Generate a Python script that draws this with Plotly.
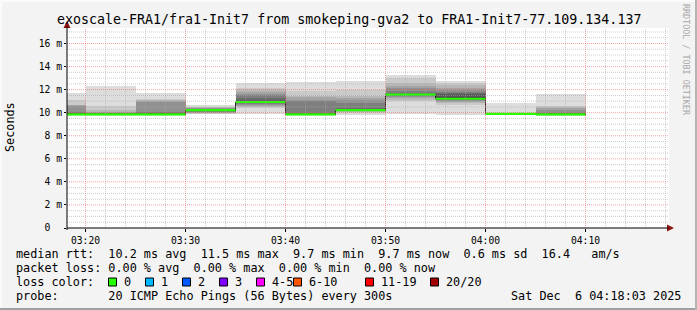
import plotly.graph_objects as go

# ---------------- data ----------------
DAY = "2025-12-06 "
slot_start = ["03:15", "03:20", "03:25", "03:30", "03:35", "03:40",
              "03:45", "03:50", "03:55", "04:00", "04:05"]
slot_end = "04:10"
median_ms = [9.86, 9.86, 9.86, 10.23, 10.93, 9.86, 10.23, 11.56, 11.21, 9.90, 9.86]

# 20 sorted ping rtts (ms) per 5-minute slot
pings_0315 = [9.74, 9.76, 9.78, 9.80, 9.82, 9.83, 9.84, 9.85, 9.86, 9.86, 9.87, 9.90, 9.93, 9.97, 10.02, 10.55, 10.65, 10.70, 11.10, 11.68]
pings_0320 = [9.74, 9.76, 9.78, 9.80, 9.82, 9.83, 9.84, 9.85, 9.86, 9.86, 9.87, 9.88, 9.90, 9.93, 9.97, 10.00, 10.05, 10.23, 10.55, 12.30]
pings_0325 = [9.74, 9.76, 9.78, 9.80, 9.82, 9.83, 9.84, 9.85, 9.86, 9.86, 9.87, 9.90, 9.95, 10.00, 10.03, 10.95, 11.00, 11.10, 11.16, 11.70]
pings_0330 = [9.86, 9.90, 9.95, 10.00, 10.03, 10.08, 10.12, 10.16, 10.20, 10.22, 10.24, 10.27, 10.30, 10.33, 10.36, 10.38, 10.42, 10.47, 10.52, 10.67]
pings_0335 = [9.90, 10.38, 10.50, 10.60, 10.67, 10.75, 10.80, 10.85, 10.90, 10.92, 10.94, 11.00, 11.10, 11.30, 11.50, 11.65, 11.80, 11.95, 12.10, 12.55]
pings_0340 = [9.74, 9.76, 9.78, 9.80, 9.82, 9.83, 9.84, 9.85, 9.86, 9.86, 9.87, 9.88, 9.90, 9.93, 11.00, 11.10, 11.40, 11.47, 11.90, 12.63]
pings_0345 = [9.80, 10.00, 10.10, 10.15, 10.18, 10.20, 10.21, 10.22, 10.22, 10.23, 10.23, 10.28, 10.33, 10.38, 10.80, 11.10, 11.30, 11.45, 11.97, 12.75]
pings_0350 = [9.90, 11.00, 11.10, 11.30, 11.40, 11.45, 11.50, 11.53, 11.55, 11.56, 11.57, 11.60, 11.65, 11.70, 11.90, 12.10, 12.30, 12.55, 12.98, 13.27]
pings_0355 = [9.80, 10.67, 10.82, 10.95, 11.05, 11.10, 11.15, 11.18, 11.20, 11.21, 11.21, 11.40, 11.60, 11.75, 11.82, 12.00, 12.15, 12.40, 12.55, 12.75]
pings_0400 = [9.78, 9.80, 9.82, 9.83, 9.84, 9.85, 9.86, 9.87, 9.88, 9.89, 9.90, 9.91, 9.92, 9.93, 9.94, 9.95, 9.96, 9.97, 9.98, 10.85]
pings_0405 = [9.72, 9.74, 9.76, 9.78, 9.80, 9.82, 9.83, 9.84, 9.85, 9.86, 9.86, 9.88, 9.90, 9.93, 9.95, 10.23, 10.40, 10.50, 10.58, 11.60]

y_tick_vals = [0, 2, 4, 6, 8, 10, 12, 14, 16]
y_tick_text = ["0\u00a0\u00a0", "2 m", "4 m", "6 m", "8 m", "10 m", "12 m", "14 m", "16 m"]

title_text = "exoscale-FRA1/fra1-Init7 from smokeping-gva2 to FRA1-Init7-77.109.134.137"
legend_row1 = "median rtt:  10.2 ms avg  11.5 ms max  9.7 ms min  9.7 ms now  0.6 ms sd  16.4   am/s"
legend_row2 = "packet loss: 0.00 % avg  0.00 % max  0.00 % min  0.00 % now"
legend_row3 = "loss color:"
legend_row4 = "probe:       20 ICMP Echo Pings (56 Bytes) every 300s"
stamp_text = "Sat Dec  6 04:18:03 2025"
loss_labels = ["0", "1", "2", "3", "4-5", "6-10", "11-19", "20/20"]
loss_colors = ["#26ff00", "#00b8ff", "#0059ff", "#7e00ff", "#ff00ff", "#ff5500", "#ff0000", "#a00000"]

pings = [pings_0315, pings_0320, pings_0325, pings_0330, pings_0335, pings_0340,
         pings_0345, pings_0350, pings_0355, pings_0400, pings_0405]

# ---------------- layout geometry (pixels) ----------------
W, H = 697, 310
PL, PR, PT, PB = 67, 669, 28, 228
PX_PER_MS = 11.53
YMAX = (PB - PT) / PX_PER_MS
X0 = DAY + "03:18:09"
X1 = DAY + "04:18:21"

def fx(px):
    return (px - PL) / (PR - PL)

def fy(py):
    return (PB - py) / (PB - PT)

MONO = "DejaVu Sans Mono"
nb = lambda s: s.replace(" ", "\u00a0")

fig = go.Figure()

xs = [DAY + s for s in slot_start]
n = 20
half = n // 2
for k in range(half):
    ibot = k + 1
    c = int(190 / half * (half - ibot)) + 50
    col = "#%02x%02x%02x" % (c, c, c)
    base = [p[k] for p in pings]
    top = [p[n - 1 - k] - p[k] for p in pings]
    fig.add_trace(go.Bar(x=xs, y=top, base=base, width=300000, offset=0,
                         marker=dict(color=col, line=dict(width=0)),
                         hoverinfo="skip", showlegend=False))

xm = xs + [DAY + slot_end]
ym = median_ms + [median_ms[-1]]
fig.add_trace(go.Scatter(x=xm, y=ym, mode="lines", line=dict(color="#202020", width=1, shape="hv"),
                         hoverinfo="skip", showlegend=False))
sw = YMAX / (PB - PT) * 1.1
fig.add_trace(go.Scatter(x=xm, y=[v - sw for v in ym], mode="lines",
                         line=dict(color="rgba(0,0,0,0)", width=0, shape="hv"),
                         hoverinfo="skip", showlegend=False))
fig.add_trace(go.Scatter(x=xm, y=[v + sw for v in ym], mode="lines", fill="tonexty",
                         fillcolor=loss_colors[0],
                         line=dict(color="rgba(0,0,0,0)", width=0, shape="hv"),
                         hoverinfo="skip", showlegend=False))

shapes = []
# grid lines drawn above the smoke, like rrdtool
import datetime as dt
t = dt.datetime(2025, 12, 6, 3, 20)
tend = dt.datetime(2025, 12, 6, 4, 18, 21)
while t <= tend:
    major = (t.minute % 10 == 0)
    shapes.append(dict(type="line", xref="x", yref="paper", x0=t, x1=t, y0=0, y1=1, layer="above",
                       line=dict(color="rgba(230,90,90,0.55)" if major else "rgba(170,170,170,0.6)",
                                 width=1, dash="1px,1px")))
    t += dt.timedelta(minutes=2)
v = 0.5
while v < YMAX:
    major = abs(v / 2 - round(v / 2)) < 1e-9
    shapes.append(dict(type="line", xref="paper", yref="y", x0=0, x1=1, y0=v, y1=v, layer="above",
                       line=dict(color="rgba(230,90,90,0.55)" if major else "rgba(170,170,170,0.6)",
                                 width=1, dash="1px,1px")))
    v += 0.5

# arrows
arrow_col = "#8b1010"
shapes.append(dict(type="path", xref="paper", yref="paper", layer="above",
                   path="M %f,%f L %f,%f L %f,%f Z" % (fx(67), fy(21), fx(63.5), fy(28), fx(70.5), fy(28)),
                   fillcolor=arrow_col, line=dict(width=0)))
shapes.append(dict(type="path", xref="paper", yref="paper", layer="above",
                   path="M %f,%f L %f,%f L %f,%f Z" % (fx(674), fy(228), fx(667), fy(224.5), fx(667), fy(231.5)),
                   fillcolor=arrow_col, line=dict(width=0)))
shapes.append(dict(type="line", xref="paper", yref="paper", layer="above",
                   x0=fx(67), x1=fx(668), y0=fy(228), y1=fy(228), line=dict(color="#000", width=1)))
shapes.append(dict(type="line", xref="paper", yref="paper", layer="above",
                   x0=fx(67), x1=fx(67), y0=fy(230), y1=fy(27), line=dict(color="#000", width=1)))

# frame
shapes.append(dict(type="line", xref="paper", yref="paper", x0=fx(0), x1=fx(697), y0=fy(309), y1=fy(309),
                   line=dict(color="#a0a0a0", width=2)))
shapes.append(dict(type="line", xref="paper", yref="paper", x0=fx(696), x1=fx(696), y0=fy(0), y1=fy(310),
                   line=dict(color="#b4b4b4", width=2)))
shapes.append(dict(type="line", xref="paper", yref="paper", x0=fx(0), x1=fx(695), y0=fy(1), y1=fy(1),
                   line=dict(color="#fafafa", width=2)))
shapes.append(dict(type="line", xref="paper", yref="paper", x0=fx(1), x1=fx(1), y0=fy(0), y1=fy(308),
                   line=dict(color="#fafafa", width=2)))

# loss colour swatches
sw_x = [108.5, 145.5, 182.5, 219.5, 256.5, 293.5, 365.5, 430.5]
for xpx, col in zip(sw_x, loss_colors):
    shapes.append(dict(type="rect", xref="paper", yref="paper",
                       x0=fx(xpx), x1=fx(xpx + 8), y0=fy(278), y1=fy(286),
                       fillcolor=col, line=dict(color="#000", width=1)))

ann = []
def text(s, xpx, ypx, size=11.8, anchor="left", color="#000", angle=0):
    ann.append(dict(text=nb(s), x=fx(xpx), y=fy(ypx), xref="paper", yref="paper",
                    xanchor=anchor, yanchor="middle", showarrow=False, textangle=angle,
                    borderpad=0, font=dict(family=MONO, size=size, color=color)))

text(title_text, 348.5, 19, size=13.3, anchor="center")
text("Seconds", 10, 127, size=11.8, anchor="center", angle=-90)
text("RRDTOOL / TOBI OETIKER", 686, 60, size=8.4, anchor="center", color="#a8a8a8", angle=90)
text(legend_row1, 15, 254)
text(legend_row2, 15, 268)
text(legend_row3, 15, 282)
text(legend_row4, 15, 296)
text(stamp_text, 682, 296, anchor="right")
for xpx, lab in zip(sw_x, loss_labels):
    text(lab, xpx + 14, 282)

fig.update_layout(
    width=W, height=H,
    margin=dict(l=PL, r=W - PR, t=PT, b=H - PB, pad=0),
    paper_bgcolor="#f3f3f3", plot_bgcolor="#ffffff",
    barmode="overlay", bargap=0,
    showlegend=False,
    shapes=shapes, annotations=ann,
    xaxis=dict(type="date", range=[X0, X1], showgrid=False, zeroline=False,
               tick0=DAY + "03:20", dtick=600000, tickformat="%H:%M",
               ticks="outside", ticklen=3, tickcolor="#000",
               tickfont=dict(family=MONO, size=9.7, color="#000"),
               showline=False, fixedrange=True),
    yaxis=dict(range=[0, YMAX], showgrid=False, zeroline=False,
               tickvals=y_tick_vals, ticktext=y_tick_text,
               ticks="outside", ticklen=2, tickcolor="#000",
               tickfont=dict(family=MONO, size=9.7, color="#000"),
               showline=False, fixedrange=True),
)

fig.write_html("out.html", config={"displayModeBar": False})
